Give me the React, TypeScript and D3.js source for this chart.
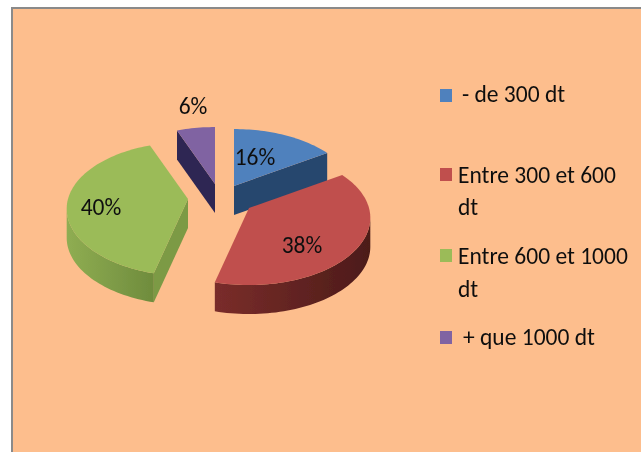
import React from "react";
import * as d3 from "d3";

const categories = ["- de 300 dt", "Entre 300 et 600 dt", "Entre 600 et 1000 dt", "+ que 1000 dt"];
const values = [16, 38, 40, 6];
const topColors = ["#4F81BD", "#C0504D", "#9BBB59", "#8064A2"];
const wallColors = ["#28466E", "#6E2826", "#7C9A45", "#2F2652"];
const rimStart = ["#2B4C78", "#4C1B19", "#6F8C3D", "#2F2652"];
const rimEnd = ["#2B4C78", "#7A2D2A", "#8FAD52", "#2F2652"];

// layout: exploded position of every slice, label offset and legend rows
const apexes: [number, number][] = [[234, 186], [249, 208], [188, 199], [215, 184]];
const labelOffsets: [number, number][] = [[21, -29], [53, 37], [-87, 8], [-22, -78]];
const legendRows = [
  { swatch: 89, x: 462, lines: ["- de 300 dt"], base: [102] },
  { swatch: 168, x: 458, lines: ["Entre 300 et 600", "dt"], base: [183, 215] },
  { swatch: 249, x: 458, lines: ["Entre 600 et 1000", "dt"], base: [264, 297] },
  { swatch: 331, x: 463, lines: ["+ que 1000 dt"], base: [345] },
];
const RX = 120, RY = 67, PERSP = 0.15, DEPTH = 29;
const FONT = "Carlito, Lato, 'Open Sans', sans-serif";

type P = [number, number];
const project = (apex: P, theta: number, r = 1): P => {
  const u = Math.sin(theta) * r, v = -Math.cos(theta) * r;
  const s = 1 + PERSP * v;
  return [apex[0] + RX * u * s, apex[1] + RY * v * s];
};
const down = (p: P): P => [p[0], p[1] + DEPTH];
const line = d3.line<P>();
const poly = (pts: P[]) => line(pts)! + "Z";

const arcs = d3.pie<number>().sort(null)(values);
const order = [0, 3, 2, 1];

function Slice({ i }: { i: number }) {
  const a = arcs[i], apex = apexes[i];
  const n = Math.max(8, Math.ceil((a.endAngle - a.startAngle) / 0.03));
  const thetas = d3.range(n + 1).map((k) => a.startAngle + ((a.endAngle - a.startAngle) * k) / n);
  const outer = thetas.map((t) => project(apex, t));
  const top = poly([apex, ...outer]);
  const walls = [
    [apex, outer[0], down(outer[0]), down(apex)] as P[],
    [outer[n], apex, down(apex), down(outer[n])] as P[],
  ].filter((q) => d3.polygonArea(q) > 0);
  const vis = d3.range(n).filter((k) =>
    d3.polygonArea([outer[k], down(outer[k]), down(outer[k + 1]), outer[k + 1]]) < 0
  );
  const rimPts: P[] = vis.length
    ? [...vis.map((k) => outer[k]), outer[vis[vis.length - 1] + 1]]
    : [];
  return (
    <g>
      {walls.map((q, k) => <path key={k} d={poly(q)} fill={wallColors[i]} />)}
      {rimPts.length > 0 && (
        <path d={poly([...rimPts, ...rimPts.map(down).reverse()])} fill={`url(#rim${i})`} />
      )}
      <path d={top} fill={topColors[i]} />
    </g>
  );
}

export default function App() {
  return (
    <svg width={641} height={452} style={{ position: "absolute", left: 0, top: 0 }}>
      <defs>
        <filter id="soft" x="-5%" y="-5%" width="110%" height="110%">
          <feGaussianBlur stdDeviation="0.6" />
        </filter>
        {values.map((_, i) => (
          <linearGradient key={i} id={`rim${i}`} x1="1" x2="0" y1="0" y2="0">
            <stop offset="0" stopColor={rimStart[i]} />
            <stop offset="1" stopColor={rimEnd[i]} />
          </linearGradient>
        ))}
      </defs>
      <rect width={641} height={452} fill="#ffffff" />
      <g filter="url(#soft)">
        <rect x={12} y={8} width={640} height={460} fill="#FDBE8D" stroke="#8A8A8A" strokeWidth={2} />
        {order.map((i) => <Slice key={i} i={i} />)}
        {values.map((v, i) => (
          <text key={i} x={apexes[i][0] + labelOffsets[i][0]} y={apexes[i][1] + labelOffsets[i][1]}
            dy="0.35em" textAnchor="middle" fontFamily={FONT} fontSize={23.5} fill="#111">{v}%</text>
        ))}
        {legendRows.map((row, i) => (
          <g key={i} aria-label={categories[i]}>
            <rect x={440} y={row.swatch} width={12} height={13} fill={topColors[i]} />
            {row.lines.map((t, k) => (
              <text key={k} x={row.x} y={row.base[k]} fontFamily={FONT} fontSize={23.5} fill="#111">{t}</text>
            ))}
          </g>
        ))}
      </g>
    </svg>
  );
}
